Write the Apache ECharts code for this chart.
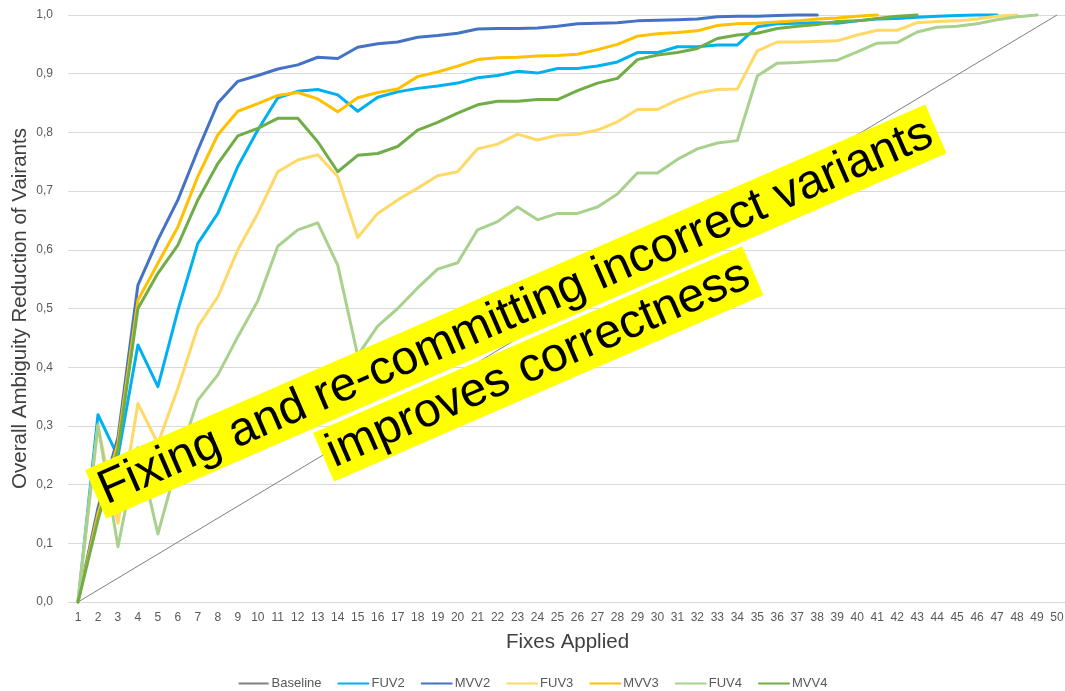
<!DOCTYPE html>
<html>
<head>
<meta charset="utf-8">
<script src="https://cdn.jsdelivr.net/npm/echarts@6/dist/echarts.min.js"></script>
<style>
  html, body { margin: 0; padding: 0; background: #fff; }
  #chart { width: 1065px; height: 691px; }
</style>
</head>
<body>
<div id="chart"></div>
<script>
// Number of fixes applied (x axis categories)
const fixes = [];
for (let i = 1; i <= 50; i++) fixes.push(String(i));

// Y axis tick values (shown with a decimal comma)
const yTicks = [0, 0.1, 0.2, 0.3, 0.4, 0.5, 0.6, 0.7, 0.8, 0.9, 1.0];

// Baseline runs straight from the first fix to the last
const baselineEnds = [0, 1];

const fuv2 = [0, 0.319, 0.248, 0.438, 0.367, 0.497, 0.611, 0.662, 0.742, 0.804,
  0.859, 0.870, 0.873, 0.864, 0.836, 0.860, 0.869, 0.875, 0.879, 0.884,
  0.893, 0.897, 0.904, 0.901, 0.909, 0.909, 0.913, 0.920, 0.936, 0.936,
  0.946, 0.946, 0.949, 0.949, 0.980, 0.985, 0.986, 0.987, 0.986, 0.990,
  0.993, 0.994, 0.996, 0.998, 0.999, 1.0, 1.0];

const mvv2 = [0, 0.16, 0.28, 0.540, 0.617, 0.685, 0.770, 0.850, 0.887, 0.897,
  0.908, 0.915, 0.928, 0.926, 0.945, 0.951, 0.954, 0.962, 0.965, 0.969,
  0.976, 0.977, 0.977, 0.978, 0.981, 0.985, 0.986, 0.987, 0.990, 0.991,
  0.992, 0.993, 0.997, 0.998, 0.998, 0.999, 1.0, 1.0];

const fuv3 = [0, 0.30, 0.134, 0.338, 0.270, 0.364, 0.469, 0.520, 0.600, 0.662,
  0.733, 0.753, 0.762, 0.725, 0.621, 0.662, 0.685, 0.705, 0.726, 0.733,
  0.772, 0.780, 0.797, 0.787, 0.795, 0.797, 0.804, 0.818, 0.839, 0.839,
  0.855, 0.867, 0.873, 0.874, 0.939, 0.954, 0.954, 0.955, 0.956, 0.966,
  0.974, 0.974, 0.987, 0.989, 0.990, 0.993, 0.998, 1.0];

const mvv3 = [0, 0.15, 0.27, 0.514, 0.577, 0.639, 0.725, 0.796, 0.836, 0.849,
  0.863, 0.868, 0.857, 0.835, 0.859, 0.868, 0.874, 0.895, 0.903, 0.913,
  0.924, 0.927, 0.928, 0.930, 0.931, 0.933, 0.941, 0.950, 0.964, 0.968,
  0.970, 0.973, 0.982, 0.985, 0.986, 0.988, 0.990, 0.993, 0.995, 0.998,
  1.0];

const fuv4 = [0, 0.302, 0.094, 0.263, 0.116, 0.24, 0.344, 0.387, 0.452, 0.513,
  0.606, 0.634, 0.646, 0.574, 0.42, 0.47, 0.50, 0.535, 0.567, 0.578,
  0.634, 0.648, 0.673, 0.651, 0.662, 0.662, 0.673, 0.695, 0.731, 0.731,
  0.754, 0.772, 0.782, 0.786, 0.896, 0.918, 0.919, 0.921, 0.923, 0.937,
  0.952, 0.953, 0.971, 0.979, 0.981, 0.985, 0.992, 0.997, 1.0];

const mvv4 = [0, 0.14, 0.26, 0.500, 0.560, 0.608, 0.685, 0.747, 0.794, 0.807,
  0.824, 0.824, 0.784, 0.733, 0.761, 0.764, 0.776, 0.804, 0.817, 0.833,
  0.847, 0.853, 0.853, 0.856, 0.856, 0.871, 0.884, 0.892, 0.924, 0.932,
  0.936, 0.943, 0.960, 0.966, 0.969, 0.977, 0.981, 0.984, 0.989, 0.990,
  0.994, 0.998, 1.0];

const seriesDefs = [
  { name: 'FUV2', data: fuv2, color: '#00B0F0' },
  { name: 'MVV2', data: mvv2, color: '#4472C4' },
  { name: 'FUV3', data: fuv3, color: '#FFD966' },
  { name: 'MVV3', data: mvv3, color: '#FFC000' },
  { name: 'FUV4', data: fuv4, color: '#A9D18E' },
  { name: 'MVV4', data: mvv4, color: '#70AD47' }
];

const labelFont = '"Liberation Sans", Arial, sans-serif';
const calloutAngle = 23.5 * Math.PI / 180;

const series = [{
  name: 'Baseline',
  type: 'line',
  data: [[fixes[0], baselineEnds[0]], [fixes[fixes.length - 1], baselineEnds[1]]],
  symbol: 'none',
  lineStyle: { color: '#808080', width: 1 },
  itemStyle: { color: '#808080' },
  clip: false,
  silent: true,
  z: 2
}].concat(seriesDefs.map(function (s, i) {
  return {
    name: s.name,
    type: 'line',
    data: s.data,
    symbol: 'none',
    lineStyle: { color: s.color, width: 3, cap: 'round', join: 'round' },
    itemStyle: { color: s.color },
    clip: false,
    z: 3 + i
  };
}));

const chart = echarts.init(document.getElementById('chart'), null, { renderer: 'canvas' });
chart.setOption({
  animation: false,
  backgroundColor: '#ffffff',
  grid: { left: 68, right: -2, top: 15, bottom: 89, containLabel: false, outerBoundsMode: 'none' },
  xAxis: {
    type: 'category',
    data: fixes,
    boundaryGap: true,
    name: 'Fixes Applied',
    nameLocation: 'middle',
    nameGap: 30,
    nameMoveOverlap: false,
    nameTextStyle: { fontFamily: labelFont, fontSize: 20.5, color: '#404040' },
    axisLine: { lineStyle: { color: '#d9d9d9', width: 1 } },
    axisTick: { show: false },
    axisLabel: { fontFamily: labelFont, fontSize: 12, color: '#595959', margin: 10, interval: 0 }
  },
  yAxis: {
    type: 'value',
    min: yTicks[0],
    max: yTicks[yTicks.length - 1],
    interval: 0.1,
    name: 'Overall Ambiguity Reduction of Vairants',
    nameLocation: 'middle',
    nameGap: 37,
    nameMoveOverlap: false,
    nameTextStyle: { fontFamily: labelFont, fontSize: 20.5, color: '#404040' },
    axisLine: { show: false },
    axisTick: { show: false },
    splitLine: { lineStyle: { color: '#d9d9d9', width: 1 } },
    axisLabel: {
      fontFamily: labelFont, fontSize: 12, color: '#595959', margin: 15,
      formatter: function (v) { return v.toFixed(1).replace('.', ','); }
    }
  },
  legend: {
    top: 672,
    left: 'center',
    itemWidth: 30,
    itemHeight: 2,
    itemGap: 16,
    data: ['Baseline', 'FUV2', 'MVV2', 'FUV3', 'MVV3', 'FUV4', 'MVV4'],
    textStyle: { fontFamily: labelFont, fontSize: 13, color: '#595959', padding: [0, 0, 0, -2] }
  },
  series: series,
  graphic: [
    {
      type: 'text',
      x: 85, y: 470,
      rotation: calloutAngle,
      z: 100,
      style: {
        text: 'Fixing and re-committing incorrect variants',
        fontFamily: labelFont,
        fontSize: 48,
        fill: '#000000',
        backgroundColor: '#FFFF00',
        padding: [3, 6, 2, 6],
        align: 'left',
        verticalAlign: 'top'
      }
    },
    {
      type: 'text',
      x: 313, y: 433,
      rotation: calloutAngle,
      z: 100,
      style: {
        text: 'improves correctness',
        fontFamily: labelFont,
        fontSize: 48,
        fill: '#000000',
        backgroundColor: '#FFFF00',
        padding: [3, 6, 2, 6],
        align: 'left',
        verticalAlign: 'top'
      }
    }
  ]
});
</script>
</body>
</html>
